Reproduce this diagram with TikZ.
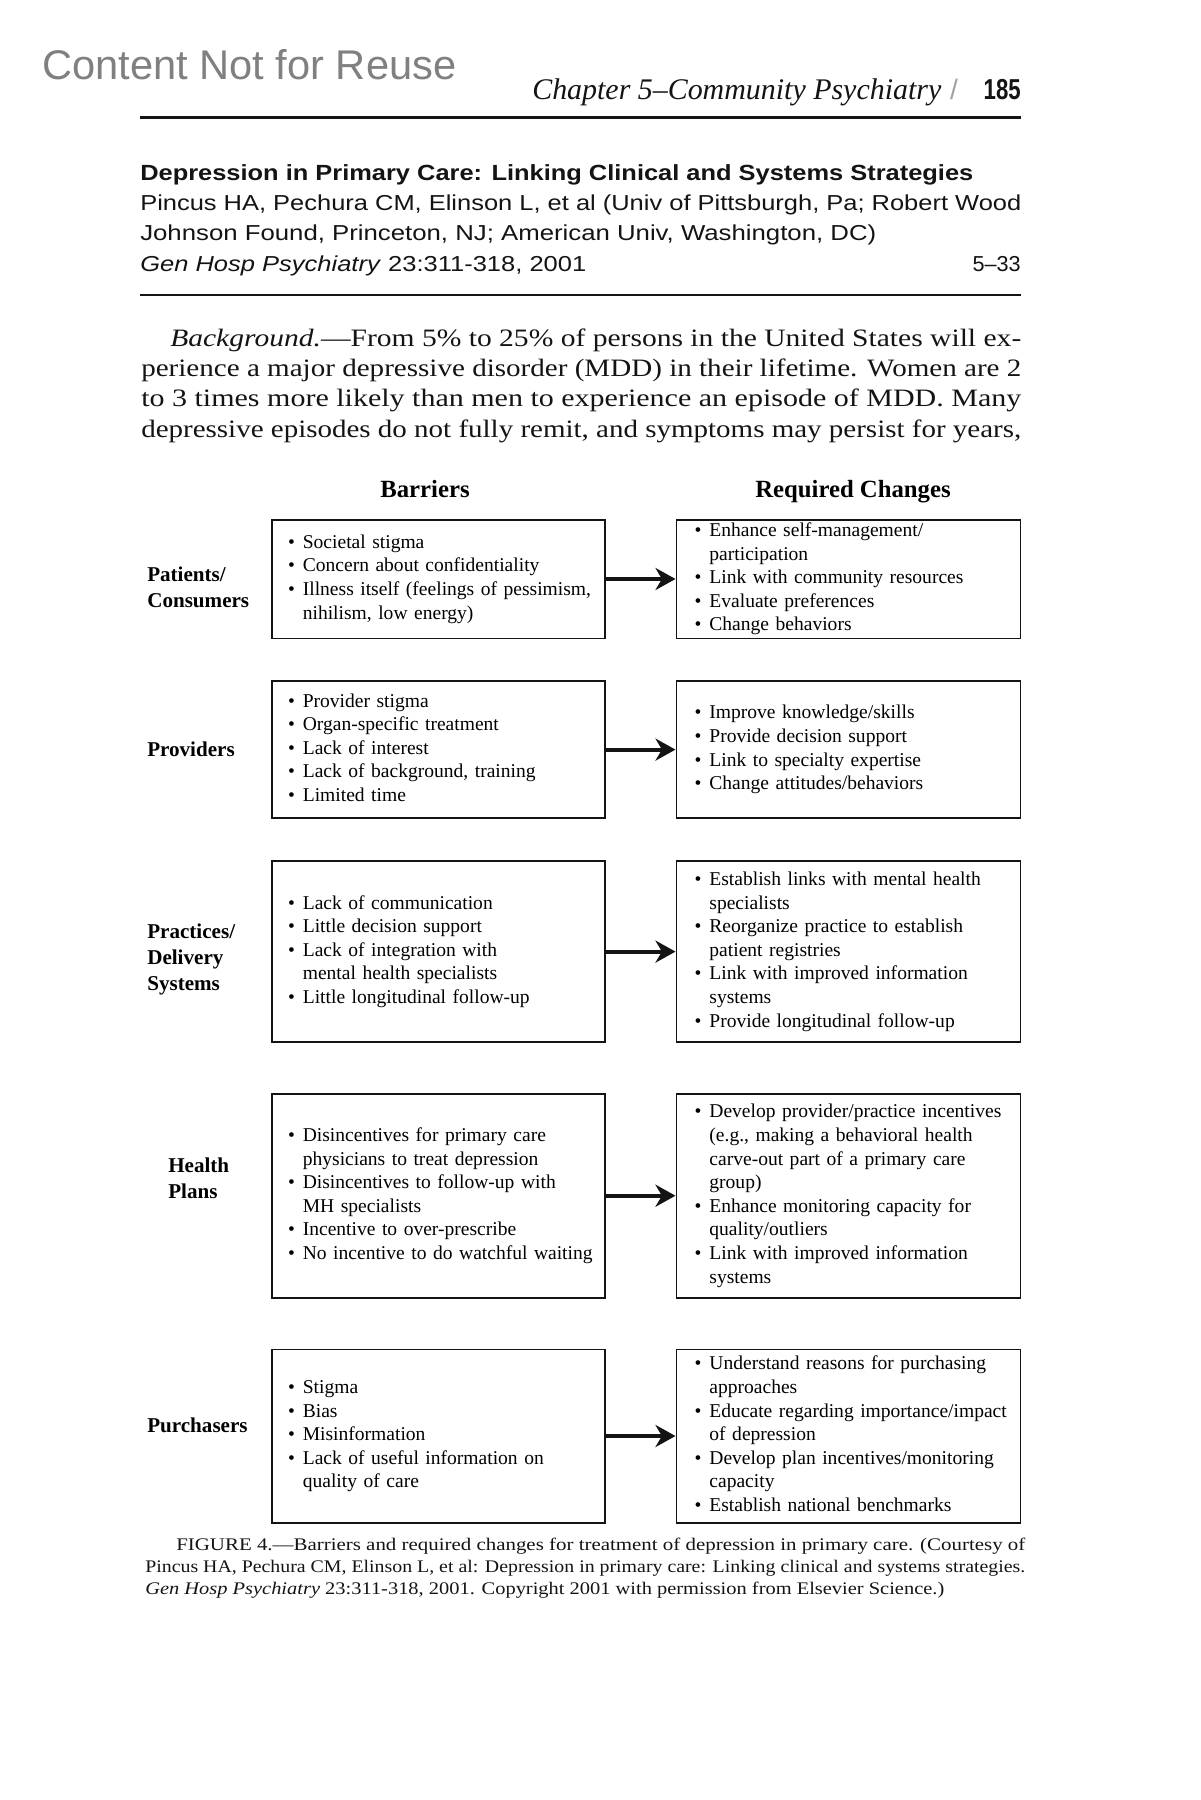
\documentclass[tikz,border=0pt]{standalone}
\usepackage{fontspec}
\setmainfont{Liberation Serif}
\setsansfont{Liberation Sans}
\usepackage{graphicx}
\usetikzlibrary{arrows.meta, positioning}
\definecolor{stamp}{RGB}{128,128,128}
\definecolor{ink}{RGB}{20,20,20}
\definecolor{slashgray}{RGB}{160,160,160}

% squeeze or stretch one printed line to a width given in px (1px = 0.25mm)
\newsavebox{\fitbox}
\newcommand{\fitline}[2]{\sbox{\fitbox}{#2}\pgfmathsetmacro{\fitscale}{#1*0.71132/\the\wd\fitbox}\scalebox{\fitscale}[1]{\usebox{\fitbox}}}
\newcommand{\bul}{\textbullet}
\newcommand{\blist}[1]{\noindent\begin{tabular}{@{}l@{\hspace{2mm}}l@{}}#1\end{tabular}}
\newcommand{\lbl}[1]{\begin{tabular}[t]{@{}l@{}}#1\end{tabular}}

\tikzset{
  pageline/.style={anchor=base west, inner sep=0pt, text=ink},
  lbox/.style={draw=ink, line width=0.45mm, text width=75.2mm, inner xsep=4.1mm, inner ysep=0pt, align=left, font=\fontsize{13.9}{16.8}\selectfont},
  rbox/.style={lbox, text width=76.9mm, inner xsep=4.55mm},
  rowlabel/.style={anchor=base west, inner sep=0pt, font=\fontsize{15}{18.8}\selectfont\bfseries},
  colhead/.style={anchor=base, inner sep=0pt, font=\fontsize{17.6}{20}\selectfont\bfseries},
  link/.style={-{Stealth[length=5mm, width=5.5mm, inset=1.6mm]}, line width=0.95mm, draw=ink}
}

\begin{document}
\begin{tikzpicture}[x=0.25mm, y=-0.25mm]
  \fill[white] (0,0) rectangle (1200,1800);
  \useasboundingbox (0,0) rectangle (1200,1800);

  % running head
  \node[pageline, text=stamp, font=\sffamily\fontsize{29.5}{32}\selectfont] (stamp) at (42,80) {\fitline{414}{Content Not for Reuse}};
  \node[pageline, font=\fontsize{21.3}{24}\selectfont\itshape] (chap) at (532,100) {\fitline{409}{Chapter 5--Community Psychiatry}};
  \node[anchor=base, inner sep=0pt, text=slashgray, font=\sffamily\fontsize{20}{22}\selectfont] (slash) at (954,100) {/};
  \node[anchor=base east, inner sep=0pt, text=ink, font=\sffamily\bfseries\fontsize{20.5}{22}\selectfont] (pageno) at (1021,100) {\fitline{37}{185}};
  \draw[ink, line width=0.6mm] (140,117.5) -- (1021,117.5);

  % abstract heading
  \node[pageline, font=\sffamily\bfseries\fontsize{15.6}{18}\selectfont] (title) at (140,181) {\fitline{833}{Depression in Primary Care: Linking Clinical and Systems Strategies}};
  \node[pageline, font=\sffamily\fontsize{15.4}{18}\selectfont] (auth1) at (140,211) {\fitline{881}{Pincus HA, Pechura CM, Elinson L, et al (Univ of Pittsburgh, Pa; Robert Wood}};
  \node[pageline, font=\sffamily\fontsize{15.4}{18}\selectfont] (auth2) at (140,241) {\fitline{736}{Johnson Found, Princeton, NJ; American Univ, Washington, DC)}};
  \node[pageline, font=\sffamily\fontsize{15.4}{18}\selectfont] (journal) at (140,271) {\fitline{446}{\textit{Gen Hosp Psychiatry} 23:311-318, 2001}};
  \node[anchor=base east, inner sep=0pt, text=ink, font=\sffamily\fontsize{15.4}{18}\selectfont] (absno) at (1021,271) {5--33};
  \draw[ink, line width=0.6mm] (140,295) -- (1021,295);

  % body text
  \node[pageline, font=\fontsize{17.8}{21}\selectfont] (body1) at (170,346) {\fitline{851}{\textit{Background.}---From 5\% to 25\% of persons in the United States will ex-}};
  \node[pageline, font=\fontsize{17.8}{21}\selectfont] (body2) at (141,376.5) {\fitline{880}{perience a major depressive disorder (MDD) in their lifetime. Women are 2}};
  \node[pageline, font=\fontsize{17.8}{21}\selectfont] (body3) at (141,406.5) {\fitline{880}{to 3 times more likely than men to experience an episode of MDD. Many}};
  \node[pageline, font=\fontsize{17.8}{21}\selectfont] (body4) at (141,437) {\fitline{880}{depressive episodes do not fully remit, and symptoms may persist for years,}};

  % figure
  \node[colhead] (hbar) at (425,497) {Barriers};
  \node[colhead] (hreq) at (853,497) {Required Changes};

  \node[lbox, minimum height=29.7mm] (pat-b) at (438.4,579) {\blist{
    \bul & Societal stigma\\
    \bul & Concern about confidentiality\\
    \bul & Illness itself (feelings of pessimism,\\
         & nihilism, low energy)}};
  \node[rbox, minimum height=29.7mm] (pat-c) at (848.4,579) {\blist{
    \bul & Enhance self-management/\\
         & participation\\
    \bul & Link with community resources\\
    \bul & Evaluate preferences\\
    \bul & Change behaviors}};

  \node[lbox, minimum height=34.3mm] (prov-b) at (438.4,749.6) {\blist{
    \bul & Provider stigma\\
    \bul & Organ-specific treatment\\
    \bul & Lack of interest\\
    \bul & Lack of background, training\\
    \bul & Limited time}};
  \node[rbox, minimum height=34.3mm] (prov-c) at (848.4,749.6) {\blist{
    \bul & Improve knowledge/skills\\
    \bul & Provide decision support\\
    \bul & Link to specialty expertise\\
    \bul & Change attitudes/behaviors}};

  \node[lbox, minimum height=45.2mm] (prac-b) at (438.4,951.6) {\blist{
    \bul & Lack of communication\\
    \bul & Little decision support\\
    \bul & Lack of integration with\\
         & mental health specialists\\
    \bul & Little longitudinal follow-up}};
  \node[rbox, minimum height=45.2mm] (prac-c) at (848.4,951.6) {\blist{
    \bul & Establish links with mental health\\
         & specialists\\
    \bul & Reorganize practice to establish\\
         & patient registries\\
    \bul & Link with improved information\\
         & systems\\
    \bul & Provide longitudinal follow-up}};

  \node[lbox, minimum height=51mm] (plan-b) at (438.4,1195.7) {\blist{
    \bul & Disincentives for primary care\\
         & physicians to treat depression\\
    \bul & Disincentives to follow-up with\\
         & MH specialists\\
    \bul & Incentive to over-prescribe\\
    \bul & No incentive to do watchful waiting}};
  \node[rbox, minimum height=51mm] (plan-c) at (848.4,1195.7) {\blist{
    \bul & Develop provider/practice incentives\\
         & (e.g., making a behavioral health\\
         & carve-out part of a primary care\\
         & group)\\
    \bul & Enhance monitoring capacity for\\
         & quality/outliers\\
    \bul & Link with improved information\\
         & systems}};

  \node[lbox, minimum height=43.3mm] (purch-b) at (438.4,1436) {\blist{
    \bul & Stigma\\
    \bul & Bias\\
    \bul & Misinformation\\
    \bul & Lack of useful information on\\
         & quality of care}};
  \node[rbox, minimum height=43.3mm] (purch-c) at (848.4,1436) {\blist{
    \bul & Understand reasons for purchasing\\
         & approaches\\
    \bul & Educate regarding importance/impact\\
         & of depression\\
    \bul & Develop plan incentives/monitoring\\
         & capacity\\
    \bul & Establish national benchmarks}};

  \node[rowlabel] (lpat) at (147,581) {\lbl{Patients/\\Consumers}};
  \node[rowlabel] (lprov) at (147,756.5) {\lbl{Providers}};
  \node[rowlabel] (lprac) at (147,938) {\lbl{Practices/\\Delivery\\Systems}};
  \node[rowlabel] (lplan) at (168,1172.5) {\lbl{Health\\Plans}};
  \node[rowlabel] (lpurch) at (147,1432) {\lbl{Purchasers}};

  \draw[link] (pat-b) -- (pat-c);
  \draw[link] (prov-b) -- (prov-c);
  \draw[link] (prac-b) -- (prac-c);
  \draw[link] (plan-b) -- (plan-c);
  \draw[link] (purch-b) -- (purch-c);

  % caption
  \node[pageline, font=\fontsize{12.6}{15}\selectfont] (cap1) at (176,1550) {\fitline{849}{FIGURE 4.---Barriers and required changes for treatment of depression in primary care. (Courtesy of}};
  \node[pageline, font=\fontsize{12.6}{15}\selectfont] (cap2) at (145,1572) {\fitline{880}{Pincus HA, Pechura CM, Elinson L, et al: Depression in primary care: Linking clinical and systems strategies.}};
  \node[pageline, font=\fontsize{12.6}{15}\selectfont] (cap3) at (145,1594) {\fitline{799}{\textit{Gen Hosp Psychiatry} 23:311-318, 2001. Copyright 2001 with permission from Elsevier Science.)}};
\end{tikzpicture}
\end{document}
